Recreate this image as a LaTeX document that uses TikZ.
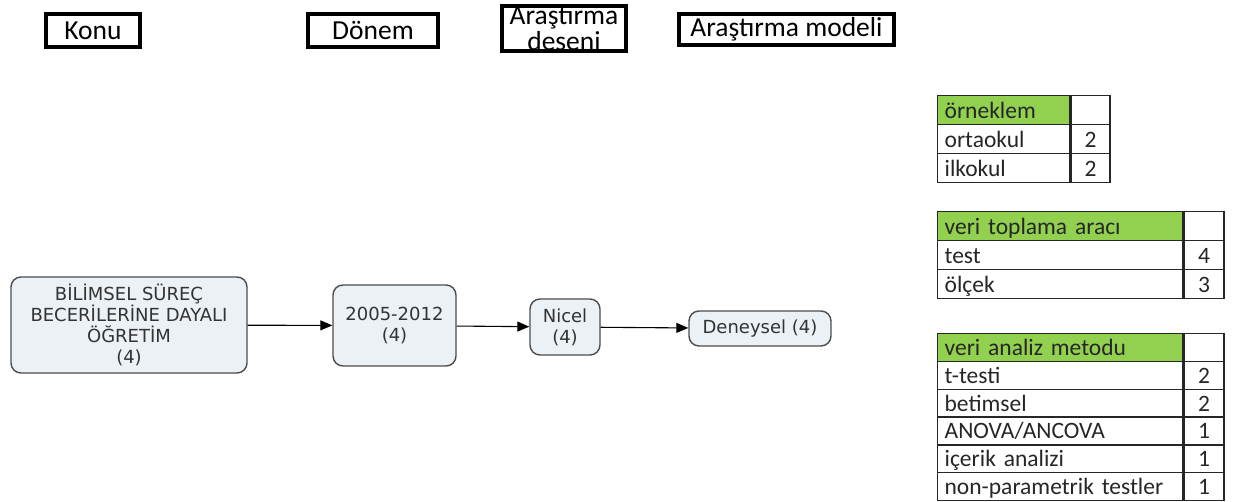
\documentclass[tikz,border=0pt]{standalone}
\usepackage{fontspec}
\setmainfont{DejaVu Sans}
\newfontfamily\calfont{Carlito}
\usepackage{xcolor}
\usetikzlibrary{arrows.meta,positioning}

\definecolor{stagefill}{HTML}{EBF1F5}
\definecolor{hdgreen}{HTML}{92D050}

\begin{document}
\begin{tikzpicture}[x=1pt, y=-1pt,
  head/.style={draw=black, line width=4pt, inner sep=0pt, align=center,
               font=\calfont\fontsize{27.5}{26}\selectfont},
  stage/.style={draw=black!70, line width=1.4pt, rounded corners=10pt,
                fill=stagefill, align=center, inner sep=0pt, text=black!80,
                font=\fontsize{18}{21}\selectfont},
  cell/.style={draw=black!85, line width=1.3pt, anchor=north west,
               inner xsep=7pt, inner ysep=0pt, align=left, text=black!85,
               text height=19pt, text depth=3pt,
               minimum height=29pt, font=\calfont\fontsize{23.5}{24}\selectfont},
  num/.style={cell, align=center, inner xsep=0pt},
  arr/.style={-{Triangle[length=12pt, width=10pt]}, line width=1.1pt}]
\useasboundingbox (0,0) rectangle (1235,501);
% --- column headings ---
\node[head, minimum width=94, minimum height=33] (konu) at (93,30.5) {Konu};
\node[head, minimum width=130, minimum height=33] (donemh) at (373,30.5) {Dönem};
\node[head, minimum width=124, minimum height=45] (desen) at (564,28.5)
  {Araştırma\\deseni};
\node[head, minimum width=215, minimum height=31] (model) at (786.5,29.5)
  {Araştırma modeli};
% --- flow of stages ---
\node[stage, minimum width=236, minimum height=96] (bilim) at (129,325)
  {BİLİMSEL SÜREÇ\\BECERİLERİNE DAYALI\\ÖĞRETİM\\(4)};
\node[stage, minimum width=123, minimum height=81] (donem) at (394.5,325.5)
  {2005-2012\\(4)};
\node[stage, minimum width=70, minimum height=56] (nicel) at (565,327)
  {Nicel\\(4)};
\node[stage, minimum width=142, minimum height=35] (deney) at (760,328.5)
  {Deneysel (4)};
\draw[arr] (bilim) -- (donem);
\draw[arr] (donem) -- (nicel);
\draw[arr] (nicel) -- (deney);
% --- table: örneklem ---
\node[cell, fill=hdgreen, text width=118pt] (orn-0) at (937,95) {örneklem};
\node[num, minimum width=39pt] (orn-v0) at (orn-0.north east) {};
\foreach \lab/\val [count=\r] in {ortaokul/2, ilkokul/2} {
  \node[cell, text width=118pt] (orn-\r) at (937,{95+29*\r}) {\lab};
  \node[num, minimum width=39pt] (orn-v\r) at (orn-\r.north east) {\val};
}
% --- table: veri toplama aracı ---
\node[cell, fill=hdgreen, text width=231pt] (arac-0) at (937,211) {veri toplama aracı};
\node[num, minimum width=40pt] (arac-v0) at (arac-0.north east) {};
\foreach \lab/\val [count=\r] in {test/4, ölçek/3} {
  \node[cell, text width=231pt] (arac-\r) at (937,{211+29*\r}) {\lab};
  \node[num, minimum width=40pt] (arac-v\r) at (arac-\r.north east) {\val};
}
% --- table: veri analiz metodu ---
\node[cell, fill=hdgreen, text width=231pt, minimum height=27.8pt] (anl-0)
  at (937,333) {veri analiz metodu};
\node[num, minimum width=40pt, minimum height=27.8pt] (anl-v0) at (anl-0.north east) {};
\foreach \lab/\val [count=\r] in {t-testi/2, betimsel/2, {ANOVA/ANCOVA}/1,
                                  içerik analizi/1, non-parametrik testler/1} {
  \node[cell, text width=231pt, minimum height=27.8pt] (anl-\r)
    at (937,{333+27.8*\r}) {\lab};
  \node[num, minimum width=40pt, minimum height=27.8pt] (anl-v\r)
    at (anl-\r.north east) {\val};
}
\end{tikzpicture}
\end{document}
